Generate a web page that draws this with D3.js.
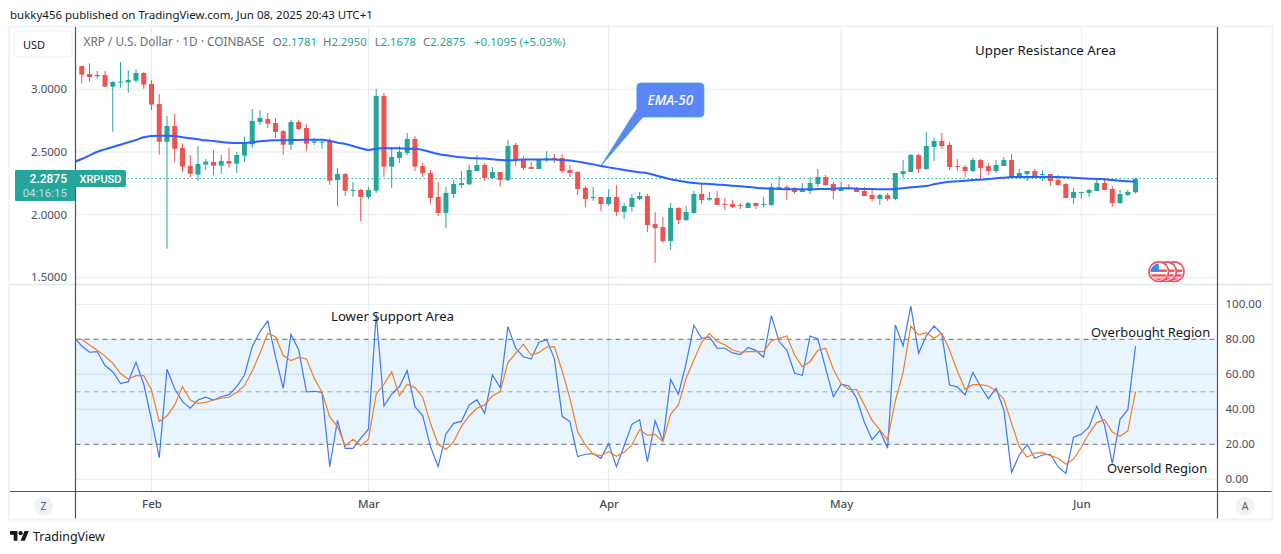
<!DOCTYPE html>
<html lang="en"><head>
<meta charset="UTF-8"><title>XRP / U.S. Dollar</title>
<style>
  html, body { margin:0; padding:0; background:#fff; overflow:hidden; }
  svg { display:block; font-family:'Noto Sans', sans-serif; }
  .axis text { fill:#4a4e59; font-size:11.5px; font-family:'Noto Sans', sans-serif; }
  .axis path, .axis line { display:none; }
  .note { fill:#131722; }
  .grid { stroke:#e4ebf2; stroke-width:1; }
  .frame { stroke:#4f525c; stroke-width:1.2; }
  .tag { font-family:Roboto, sans-serif; fill:#fff; }
</style>
</head><body>
<svg id="chart" width="1281" height="554"></svg>
<script src="https://cdn.jsdelivr.net/npm/d3@7/dist/d3.min.js"></script>
<script>
// daily bars, first one is Jan 22 (only just off the left edge)
const startDay = new Date(Date.UTC(2025, 0, 22));

const opens = [
  3.178,3.186,3.122,3.104,3.114,3.021,3.053,3.056,3.069,3.130,
  3.042,2.883,2.582,2.707,2.532,2.388,2.319,2.399,2.420,2.391,
  2.428,2.407,2.471,2.561,2.739,2.763,2.731,2.667,2.558,2.739,
  2.691,2.574,2.574,2.588,2.276,2.324,2.191,2.197,2.141,2.191,
  2.947,2.383,2.452,2.492,2.604,2.388,2.332,2.141,2.013,2.165,
  2.236,2.242,2.348,2.396,2.292,2.340,2.276,2.556,2.436,2.380,
  2.364,2.436,2.452,2.452,2.356,2.340,2.213,2.133,2.141,2.085,
  2.141,2.021,2.061,2.125,2.149,1.925,1.901,1.789,2.053,1.957,
  2.013,2.165,2.120,2.133,2.085,2.085,2.077,2.053,2.093,2.077,
  2.077,2.213,2.221,2.213,2.181,2.189,2.244,2.300,2.244,2.189,
  2.213,2.213,2.189,2.157,2.125,2.157,2.125,2.324,2.340,2.476,
  2.364,2.540,2.588,2.556,2.388,2.380,2.348,2.436,2.388,2.348,
  2.388,2.436,2.292,2.324,2.348,2.316,2.324,2.276,2.244,2.133,
  2.176,2.173,2.189,2.252,2.205,2.093,2.157,2.1781
];
const highs = [
  3.195,3.189,3.207,3.146,3.146,3.066,3.218,3.152,3.160,3.138,
  3.074,2.963,2.787,2.803,2.569,2.476,2.548,2.444,2.516,2.476,
  2.532,2.500,2.620,2.843,2.835,2.811,2.771,2.675,2.755,2.755,
  2.723,2.612,2.596,2.612,2.372,2.332,2.261,2.205,2.221,3.003,
  2.971,2.540,2.548,2.652,2.628,2.412,2.356,2.261,2.221,2.276,
  2.348,2.396,2.476,2.412,2.380,2.340,2.596,2.572,2.468,2.420,
  2.444,2.508,2.484,2.484,2.396,2.348,2.229,2.221,2.141,2.205,
  2.236,2.093,2.165,2.181,2.165,2.021,1.981,2.093,2.061,2.069,
  2.189,2.252,2.181,2.189,2.133,2.117,2.093,2.101,2.093,2.141,
  2.252,2.308,2.236,2.221,2.252,2.300,2.364,2.316,2.261,2.261,
  2.244,2.221,2.221,2.205,2.165,2.173,2.332,2.436,2.484,2.484,
  2.659,2.612,2.652,2.580,2.444,2.396,2.452,2.444,2.412,2.436,
  2.460,2.484,2.364,2.348,2.364,2.356,2.324,2.316,2.252,2.213,
  2.181,2.205,2.284,2.284,2.229,2.197,2.197,2.2950
];
const lows = [
  3.150,3.048,3.061,3.085,3.021,2.662,3.013,2.973,3.056,3.005,
  2.835,2.479,1.728,2.420,2.340,2.295,2.271,2.356,2.316,2.324,
  2.375,2.332,2.420,2.532,2.715,2.691,2.612,2.476,2.516,2.675,
  2.508,2.556,2.524,2.236,2.069,2.149,2.141,1.949,2.125,2.173,
  2.300,2.213,2.412,2.476,2.348,2.300,2.085,1.989,1.893,2.133,
  2.213,2.236,2.348,2.268,2.284,2.221,2.268,2.388,2.356,2.364,
  2.364,2.420,2.412,2.332,2.300,2.157,2.061,2.109,2.029,2.069,
  1.989,1.965,2.021,2.117,1.861,1.614,1.774,1.718,1.925,1.949,
  2.005,2.085,2.109,2.077,2.037,2.053,2.045,2.053,2.045,2.061,
  2.069,2.205,2.117,2.165,2.181,2.165,2.221,2.229,2.125,2.189,
  2.197,2.181,2.149,2.109,2.077,2.109,2.117,2.292,2.340,2.332,
  2.356,2.428,2.524,2.356,2.348,2.300,2.340,2.284,2.316,2.332,
  2.388,2.292,2.292,2.268,2.292,2.268,2.229,2.236,2.133,2.085,
  2.125,2.141,2.189,2.197,2.061,2.085,2.149,2.1678
];
const closes = [
  3.186,3.117,3.098,3.114,3.021,3.058,3.061,3.074,3.130,3.037,
  2.878,2.582,2.707,2.526,2.383,2.327,2.404,2.423,2.391,2.428,
  2.407,2.476,2.569,2.747,2.771,2.726,2.659,2.558,2.739,2.683,
  2.566,2.585,2.582,2.271,2.324,2.191,2.197,2.141,2.197,2.947,
  2.383,2.460,2.500,2.604,2.383,2.330,2.133,2.013,2.173,2.244,
  2.252,2.356,2.396,2.292,2.340,2.276,2.548,2.428,2.372,2.364,
  2.444,2.449,2.444,2.348,2.332,2.205,2.125,2.141,2.085,2.141,
  2.021,2.069,2.133,2.149,1.917,1.893,1.789,2.053,1.957,2.021,
  2.165,2.117,2.133,2.077,2.077,2.061,2.069,2.093,2.069,2.085,
  2.221,2.221,2.205,2.181,2.197,2.252,2.300,2.236,2.189,2.213,
  2.205,2.181,2.149,2.125,2.157,2.125,2.332,2.348,2.476,2.364,
  2.548,2.588,2.548,2.380,2.380,2.348,2.436,2.372,2.348,2.396,
  2.436,2.292,2.332,2.348,2.300,2.324,2.268,2.236,2.133,2.181,
  2.181,2.197,2.252,2.197,2.093,2.165,2.181,2.2875
];
const ema50 = [
  2.420,2.444,2.473,2.502,2.521,2.540,2.558,2.577,2.596,2.617,
  2.628,2.630,2.630,2.628,2.617,2.609,2.601,2.593,2.588,2.580,
  2.574,2.572,2.572,2.577,2.585,2.590,2.593,2.593,2.596,2.596,
  2.598,2.598,2.598,2.588,2.574,2.564,2.548,2.529,2.516,2.526,
  2.532,2.529,2.529,2.526,2.526,2.516,2.500,2.484,2.473,2.465,
  2.457,2.452,2.449,2.447,2.441,2.436,2.433,2.436,2.439,2.439,
  2.439,2.439,2.439,2.436,2.431,2.423,2.412,2.401,2.388,2.377,
  2.367,2.356,2.346,2.338,2.330,2.314,2.298,2.282,2.271,2.261,
  2.252,2.247,2.244,2.239,2.236,2.231,2.226,2.221,2.215,2.210,
  2.207,2.205,2.202,2.202,2.202,2.202,2.205,2.205,2.207,2.210,
  2.210,2.207,2.205,2.205,2.202,2.202,2.205,2.210,2.218,2.223,
  2.229,2.242,2.255,2.263,2.266,2.271,2.276,2.279,2.284,2.290,
  2.295,2.300,2.300,2.300,2.300,2.300,2.300,2.300,2.298,2.295,
  2.290,2.287,2.284,2.282,2.276,2.271,2.266,2.263
];
const rsi = [
  81.1,76.2,72.6,73.0,65.0,61.5,54.7,55.8,66.9,54.3,
  33.9,12.4,62.9,51.6,44.4,40.6,45.3,46.9,45.3,47.2,
  48.4,53.0,59.6,75.8,84.4,90.5,70.1,52.0,82.9,73.9,
  49.9,50.3,49.7,7.2,33.7,17.7,17.7,23.4,28.6,94.3,
  41.9,48.6,53.0,62.1,41.5,36.4,18.7,7.2,25.9,32.0,
  33.1,42.5,45.5,37.7,59.6,52.4,87.2,74.9,69.9,68.8,
  78.3,79.8,68.8,36.0,33.0,13.0,14.3,14.7,12.0,20.4,
  7.2,19.2,31.4,34.1,10.1,33.5,21.9,57.0,48.6,66.3,
  88.0,80.6,81.3,75.0,74.9,72.2,71.2,75.4,73.7,69.7,
  93.5,78.7,73.7,60.6,59.4,81.9,80.2,63.4,47.2,54.3,
  53.3,46.3,32.6,22.7,27.8,17.7,88.2,76.2,98.9,72.0,
  82.1,87.6,83.0,53.9,52.8,48.2,61.1,53.0,46.1,52.0,
  39.6,4.0,13.9,20.0,12.0,13.9,14.3,7.2,3.4,24.0,
  25.7,29.9,41.7,31.0,9.1,34.3,39.8,76.2
];
const rsiAvg = [
  80.0,80.0,76.8,73.7,70.3,66.3,60.4,57.3,59.2,59.2,
  51.0,33.0,36.2,42.5,53.0,45.3,43.4,44.0,45.3,46.3,
  46.9,49.7,53.5,61.9,72.0,83.4,81.5,70.7,67.8,69.7,
  68.8,57.7,49.7,35.8,30.1,19.2,22.9,19.2,22.9,48.6,
  54.3,61.5,47.8,54.3,52.4,46.9,32.0,20.0,17.1,21.5,
  30.3,36.2,40.6,42.5,47.6,50.1,66.7,72.0,77.1,71.0,
  72.4,75.6,75.8,61.9,46.3,27.2,19.6,14.3,13.5,15.8,
  13.1,15.4,19.6,28.4,25.1,25.7,21.5,37.1,42.5,57.7,
  68.2,78.3,83.2,78.7,76.8,73.9,72.6,73.0,73.1,73.0,
  79.2,80.6,81.9,71.0,64.4,67.2,73.7,74.9,62.9,54.5,
  51.4,51.2,42.5,33.7,28.2,22.5,44.8,61.1,87.6,82.5,
  83.8,80.6,83.4,73.9,61.9,51.4,54.1,54.1,53.3,50.5,
  45.9,32.0,18.7,12.6,15.0,15.2,13.5,12.0,8.6,11.6,
  18.3,26.3,32.4,34.1,27.0,24.6,27.6,50.1
];

const priceTicks = [1.5, 2, 2.5, 3];
const rsiTicks = [0, 20, 40, 60, 80, 100];
const rsiGrid = [0, 40, 60, 100];
const rsiLevels = [80, 50, 20];
const monthTicks = [1, 2, 3, 4, 5].map(m => new Date(Date.UTC(2025, m, 1)));
const eventDays = [13, 12, 11].map(d => new Date(Date.UTC(2025, 5, d)));
const lastPrice = 2.2875;

[opens, highs, lows, closes, ema50, rsi, rsiAvg].forEach(a => {
  if (a.length !== 138) throw new Error('bad length ' + a.length);
});

const days = opens.map((_, i) => d3.utcDay.offset(startDay, i));

const paneL = 75.5, paneR = 1217.5, paneT = 27, paneSplit = 284.5, axisY = 491.5, frameB = 518.5, outerL = 10, outerR = 1271.5;
const UP = '#26a69a', DOWN = '#ef5350';

const x = d3.scaleUtc().domain([monthTicks[0], monthTicks[4]]).range([151.5, 1081.3]);
const yP = d3.scaleLinear().domain([1.5, 3]).range([277.3, 89.3]);
const yR = d3.scaleLinear().domain([0, 100]).range([479.3, 304.3]);

const svg = d3.select('#chart');
const defs = svg.append('defs');
defs.append('clipPath').attr('id', 'pricePane').append('rect')
  .attr('x', paneL).attr('y', paneT).attr('width', paneR - paneL).attr('height', paneSplit - paneT);
defs.append('clipPath').attr('id', 'rsiPane').append('rect')
  .attr('x', paneL).attr('y', paneSplit).attr('width', paneR - paneL).attr('height', axisY - paneSplit);
defs.append('clipPath').attr('id', 'flagClip').append('circle').attr('r', 8.2);

// ── grid
const grid = svg.append('g');
grid.selectAll('line.v').data(monthTicks).join('line').attr('class', 'grid v')
  .attr('x1', d => x(d)).attr('x2', d => x(d)).attr('y1', paneT).attr('y2', axisY);
grid.selectAll('line.p').data(priceTicks).join('line').attr('class', 'grid p')
  .attr('x1', paneL).attr('x2', paneR).attr('y1', d => yP(d)).attr('y2', d => yP(d));
grid.selectAll('line.r').data(rsiGrid).join('line').attr('class', 'grid r')
  .attr('x1', paneL).attr('x2', paneR).attr('y1', d => yR(d)).attr('y2', d => yR(d));

// ── price pane
const priceG = svg.append('g').attr('clip-path', 'url(#pricePane)');
priceG.append('line').attr('x1', paneL).attr('x2', paneR)
  .attr('y1', yP(lastPrice)).attr('y2', yP(lastPrice))
  .attr('stroke', UP).attr('stroke-width', 1).attr('stroke-dasharray', '1.5 2.5');

const bars = priceG.selectAll('g.bar').data(days).join('g').attr('class', 'bar');
const barColor = (_, i) => closes[i] >= opens[i] ? UP : DOWN;
bars.append('line')
  .attr('x1', d => x(d)).attr('x2', d => x(d))
  .attr('y1', (_, i) => yP(highs[i])).attr('y2', (_, i) => yP(lows[i]))
  .attr('stroke', barColor).attr('stroke-width', 1);
bars.append('rect')
  .attr('x', d => x(d) - 2.5).attr('width', 5)
  .attr('y', (_, i) => yP(Math.max(opens[i], closes[i])))
  .attr('height', (_, i) => Math.max(1, Math.abs(yP(opens[i]) - yP(closes[i]))))
  .attr('fill', barColor);

priceG.append('path').datum(ema50)
  .attr('fill', 'none').attr('stroke', '#2962ff').attr('stroke-width', 2).attr('stroke-linejoin', 'round')
  .attr('d', d3.line().x((_, i) => x(days[i])).y(d => yP(d)).curve(d3.curveMonotoneX));

// economic event flags
const flags = priceG.selectAll('g.flag').data(eventDays).join('g').attr('class', 'flag')
  .attr('transform', d => `translate(${x(d)},271.7)`);
flags.append('circle').attr('r', 9.8).attr('fill', '#fff').attr('stroke', '#f0525a').attr('stroke-width', 1.6);
const flagInner = flags.append('g').attr('clip-path', 'url(#flagClip)');
flagInner.append('rect').attr('x', -9).attr('y', -9).attr('width', 18).attr('height', 18).attr('fill', '#fff');
flagInner.selectAll('rect.stripe').data([-2.2, 2.6, 6.6]).join('rect').attr('class', 'stripe')
  .attr('x', -9).attr('width', 18).attr('y', d => d).attr('height', 2.4).attr('fill', '#f0525a');
flagInner.append('rect').attr('x', -9).attr('y', -9).attr('width', 9).attr('height', 9).attr('fill', '#3a8ae6');

// callout, the tip sits on the EMA at the end of March
const calloutX = x(new Date(Date.UTC(2025, 2, 31)));
const calloutY = yP(2.388);
svg.append('path')
  .attr('d', `M${calloutX + 36} 87 q0 -4 4 -4 h59 q4 0 4 4 v26 q0 4 -4 4 h-57 L${calloutX} ${calloutY} L${calloutX + 36} 109 Z`)
  .attr('fill', '#5b86f8').attr('stroke', '#3fa7b5').attr('stroke-width', 0.8);
svg.append('text').attr('x', calloutX + 69.5).attr('y', 104.5).attr('text-anchor', 'middle')
  .attr('fill', '#fff').attr('font-size', 13.5).attr('font-style', 'italic').attr('font-weight', 500).text('EMA-50');

// ── RSI pane
const rsiG = svg.append('g').attr('clip-path', 'url(#rsiPane)');
rsiG.append('rect').attr('x', paneL).attr('width', paneR - paneL)
  .attr('y', yR(80)).attr('height', yR(20) - yR(80)).attr('fill', '#2196f3').attr('fill-opacity', 0.1);
rsiG.selectAll('line.band').data(rsiLevels).join('line').attr('class', 'band')
  .attr('x1', paneL).attr('x2', paneR).attr('y1', d => yR(d)).attr('y2', d => yR(d))
  .attr('stroke', d => d === 50 ? '#a3a6af' : '#6a6d78').attr('stroke-width', 1).attr('stroke-dasharray', '5 4');
rsiG.selectAll('line.inner').data([40, 60]).join('line').attr('class', 'inner')
  .attr('x1', paneL).attr('x2', paneR).attr('y1', d => yR(d)).attr('y2', d => yR(d))
  .attr('stroke', '#cfe3f3').attr('stroke-width', 1);

const rsiLine = d3.line().x((_, i) => x(days[i])).y(d => yR(d));
rsiG.append('path').datum(rsi).attr('fill', 'none').attr('stroke', '#3f78f6').attr('stroke-width', 1.2).attr('d', rsiLine);
rsiG.append('path').datum(rsiAvg).attr('fill', 'none').attr('stroke', '#f57c25').attr('stroke-width', 1.2).attr('d', rsiLine);

// ── frame
svg.append('rect').attr('x', outerL - 1).attr('y', paneT - 0.5).attr('width', outerR - outerL + 2).attr('height', frameB - paneT + 1.5)
  .attr('fill', 'none').attr('stroke', '#f0f3f8').attr('stroke-width', 2);
svg.append('line').attr('x1', outerL).attr('x2', outerR).attr('y1', paneSplit).attr('y2', paneSplit)
  .attr('stroke', '#e3e6ee').attr('stroke-width', 1.5);
svg.append('line').attr('class', 'frame').attr('x1', paneL).attr('x2', paneL).attr('y1', paneT).attr('y2', frameB);
svg.append('line').attr('class', 'frame').attr('x1', paneR).attr('x2', paneR).attr('y1', paneT).attr('y2', frameB);
svg.append('line').attr('class', 'frame').attr('x1', outerL).attr('x2', outerR).attr('y1', axisY).attr('y2', axisY);

// ── axes
svg.append('g').attr('class', 'axis').attr('transform', 'translate(75,0)')
  .call(d3.axisLeft(yP).tickValues(priceTicks).tickFormat(d3.format('.4f')).tickSize(0).tickPadding(8));
svg.append('g').attr('class', 'axis').attr('transform', `translate(${paneR},0)`)
  .call(d3.axisRight(yR).tickValues(rsiTicks).tickFormat(d3.format('.2f')).tickSize(0).tickPadding(8));
svg.append('g').attr('class', 'axis').attr('transform', `translate(0,${axisY})`)
  .call(d3.axisBottom(x).tickValues(monthTicks).tickFormat(d3.utcFormat('%b')).tickSize(0).tickPadding(8))
  .selectAll('text').attr('font-weight', 500);

// ── price tag
svg.append('rect').attr('x', 15).attr('y', 170).attr('width', 60).attr('height', 31).attr('rx', 1).attr('fill', UP);
svg.append('rect').attr('x', 75).attr('y', 170).attr('width', 51).attr('height', 17).attr('rx', 2).attr('fill', UP);
svg.append('text').attr('class', 'tag').attr('x', 67).attr('y', 183).attr('text-anchor', 'end').attr('font-size', 12).attr('font-weight', 500).text(d3.format('.4f')(lastPrice));
svg.append('text').attr('class', 'tag').attr('x', 67).attr('y', 197).attr('text-anchor', 'end').attr('fill-opacity', 0.7).attr('font-size', 11.5).text('04:16:15');
svg.append('text').attr('class', 'tag').attr('x', 79.5).attr('y', 182.5).attr('font-size', 11).attr('font-weight', 500).text('XRPUSD');

// ── header / legend
svg.append('text').attr('x', 10).attr('y', 19).attr('fill', '#131722').attr('font-size', 11.5).text('bukky456 published on TradingView.com, Jun 08, 2025 20:43 UTC+1');

svg.append('rect').attr('x', 14).attr('y', 31).attr('width', 58).attr('height', 26).attr('rx', 4).attr('fill', '#fff').attr('stroke', '#eef0f4');
svg.append('text').attr('x', 23).attr('y', 49).attr('fill', '#131722').attr('font-size', 11).text('USD');

const legend = svg.append('text').attr('y', 45.5).attr('fill', '#6a6d78');
legend.append('tspan').attr('x', 83.5).attr('font-size', 11.8).text('XRP / U.S. Dollar · 1D · COINBASE');
[['O', '2.1781', 272.7], ['H', '2.2950', 323], ['L', '2.1678', 374.7], ['C', '2.2875', 423]].forEach(([k, v, px]) => {
  legend.append('tspan').attr('x', px).attr('font-size', 11.3).text(k);
  legend.append('tspan').attr('fill', UP).attr('font-size', 11.3).text(v);
});
legend.append('tspan').attr('x', 474).attr('fill', UP).attr('font-size', 11.5).text('+0.1095 (+5.03%)');

// ── notes on the chart
const notes = [
  ['Upper Resistance Area', 975, 55, 13.3],
  ['Lower Support Area', 331, 320.5, 13.2],
  ['Overbought Region', 1091, 337, 12.9],
  ['Oversold Region', 1107, 473, 12.9]
];
svg.selectAll('text.note').data(notes).join('text').attr('class', 'note')
  .attr('x', d => d[1]).attr('y', d => d[2]).attr('font-size', d => d[3]).text(d => d[0]);

// ── corner buttons
[['Z', 43.5], ['A', 1245]].forEach(([t, cx]) => {
  svg.append('circle').attr('cx', cx).attr('cy', 506).attr('r', 9.5).attr('fill', '#f0f3f6');
  svg.append('text').attr('x', cx).attr('y', 510).attr('text-anchor', 'middle').attr('fill', '#5d606b').attr('font-size', 10.5).text(t);
});

// ── footer logo
svg.append('g').attr('transform', 'translate(10,529) scale(0.53)').attr('fill', '#131722').html(
  '<path d="M14 22H7V11H0V4h14v18zM28 22h-8l7.5-18h8L28 22z"/><circle cx="20" cy="8" r="4"/>');
svg.append('text').attr('x', 33).attr('y', 541).attr('fill', '#131722').attr('font-size', 12.5).text('TradingView');
</script>
</body></html>
